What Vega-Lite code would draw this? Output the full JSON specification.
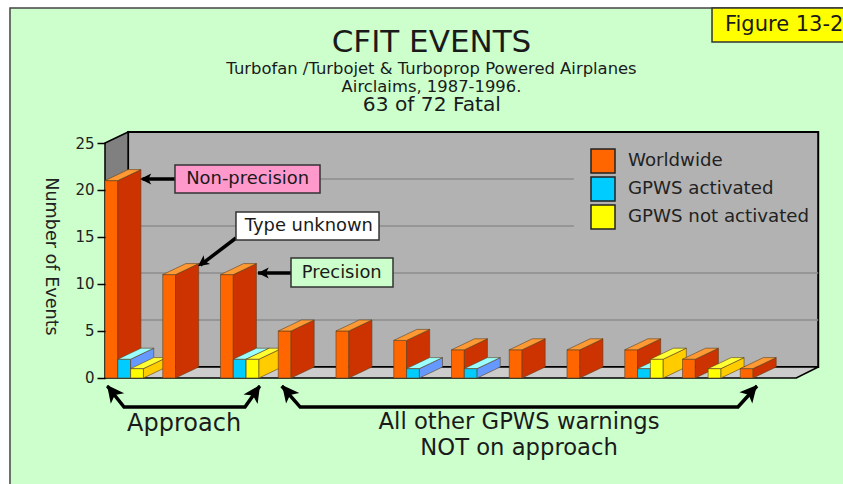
{
"$schema":"https://vega.github.io/schema/vega-lite/v6.json",
"width":843,"height":484,"padding":0,"autosize":{"type":"none"},
"background":"#ffffff",
"config":{"view":{"stroke":null},"font":"DejaVu Sans"},
"title":{"text":"CFIT EVENTS","subtitle":["Turbofan /Turbojet & Turboprop Powered Airplanes","Airclaims, 1987-1996."],"anchor":"middle","frame":"group","font":"DejaVu Sans","fontSize":31,"fontWeight":"normal","color":"#1a1a1a","subtitleFont":"DejaVu Sans","subtitleFontSize":16.4,"subtitleColor":"#1a1a1a","subtitleLineHeight":18,"subtitlePadding":2,"dx":10,"dy":96,"offset":0},
"resolve":{"scale":{"size":"independent"}},
"datasets":{
"events":[
{"slot":0,"series":"Worldwide","events":21},{"slot":0,"series":"GPWS activated","events":2},{"slot":0,"series":"GPWS not activated","events":1},
{"slot":1,"series":"Worldwide","events":11},
{"slot":2,"series":"Worldwide","events":11},{"slot":2,"series":"GPWS activated","events":2},{"slot":2,"series":"GPWS not activated","events":2},
{"slot":3,"series":"Worldwide","events":5},
{"slot":4,"series":"Worldwide","events":5},
{"slot":5,"series":"Worldwide","events":4},{"slot":5,"series":"GPWS activated","events":1},
{"slot":6,"series":"Worldwide","events":3},{"slot":6,"series":"GPWS activated","events":1},
{"slot":7,"series":"Worldwide","events":3},
{"slot":8,"series":"Worldwide","events":3},
{"slot":9,"series":"Worldwide","events":3},{"slot":9,"series":"GPWS activated","events":1},{"slot":9,"series":"GPWS not activated","events":2},
{"slot":10,"series":"Worldwide","events":2},{"slot":10,"series":"GPWS not activated","events":1},
{"slot":11,"series":"Worldwide","events":1}
],
"grid":[{"x":0.4,"x2":12.35,"y":6.17},{"x":0.4,"x2":12.35,"y":11.17},{"x":0.4,"x2":8.12,"y":16.17},{"x":0.4,"x2":8.12,"y":21.17}],
"boxes":[
{"label":"Non-precision","x":1.212,"x2":3.723,"y":22.66,"y2":19.68},
{"label":"Type unknown","x":2.268,"x2":4.745,"y":17.66,"y2":14.68},
{"label":"Precision","x":3.221,"x2":4.987,"y":12.77,"y2":9.68},
{"label":"Figure 13-2","x":10.511,"x2":12.866,"y":39.36,"y2":35.74}
],
"arrows":[
{"id":"a","x":1.212,"y":21.17},{"id":"a","x":0.65,"y":21.17},
{"id":"b","x":2.268,"y":14.894},{"id":"b","x":1.65,"y":12.0},
{"id":"c","x":3.221,"y":11.17},{"id":"c","x":2.65,"y":11.17},
{"id":"d","x":0.04,"y":-0.85},{"id":"d","x":0.33,"y":-3.09},{"id":"d","x":2.424,"y":-3.09},{"id":"d","x":2.68,"y":-0.85},
{"id":"e","x":3.06,"y":-0.85},{"id":"e","x":3.38,"y":-3.09},{"id":"e","x":10.96,"y":-3.09},{"id":"e","x":11.29,"y":-0.85}
],
"heads":[
{"head":"small","angle":270,"x":0.61,"y":21.17},
{"head":"small","angle":234,"x":1.61,"y":11.9},
{"head":"small","angle":270,"x":2.645,"y":11.17},
{"head":"large","angle":322,"x":0.035,"y":-0.75},
{"head":"large","angle":34,"x":2.685,"y":-0.75},
{"head":"large","angle":321,"x":3.065,"y":-0.75},
{"head":"large","angle":41,"x":11.29,"y":-0.75}
],
"labels":[
{"text":"Non-precision","kind":"box","x":2.47,"y":21.17},
{"text":"Type unknown","kind":"box","x":3.53,"y":16.17},
{"text":"Precision","kind":"box","x":4.1,"y":11.17},
{"text":"Figure 13-2","kind":"fig","x":11.76,"y":37.55},
{"text":"63 of 72 Fatal","kind":"fatal","x":5.66,"y":29.0},
{"text":"Approach","kind":"big","x":1.37,"y":-4.9},
{"text":"All other GPWS warnings","kind":"mid","x":7.17,"y":-4.7},
{"text":"NOT on approach","kind":"mid","x":7.17,"y":-7.4}
]
},
"encoding":{
"x":{"field":"x","type":"quantitative","scale":{"domain":[-1.818,12.779],"nice":false,"zero":false},"axis":null},
"y":{"field":"y","type":"quantitative","scale":{"domain":[-11.277,40.213],"nice":false,"zero":false},
"axis":{"values":[0,5,10,15,20,25],"offset":-105,"zindex":1,"domain":false,"grid":false,"tickColor":"#000000","tickWidth":1.5,"tickSize":8,"labelFont":"DejaVu Sans","labelFontSize":15,"labelColor":"#222222","labelPadding":3,"title":"Number of Events","titleFont":"DejaVu Sans","titleFontSize":17.6,"titleFontWeight":"normal","titleColor":"#222222","titleAngle":90,"titleX":-55,"titleY":256,"titleAlign":"center","titleBaseline":"middle"}}
},
"layer":[
{"data":{"values":[{"x":-1.645,"x2":12.95,"y":39.36,"y2":-11.5}]},
 "mark":{"type":"rect","fill":"#ccffcc","stroke":"#444444","strokeWidth":1.5},
 "encoding":{"x2":{"field":"x2"},"y2":{"field":"y2"}}},
{"data":{"values":[{"x":0.4,"x2":12.35,"y":26.17,"y2":1.17}]},
 "mark":{"type":"rect","fill":"#b2b2b2","stroke":"#000000","strokeWidth":2},
 "encoding":{"x2":{"field":"x2"},"y2":{"field":"y2"}}},
{"data":{"values":[{"x":0,"y":0,"y2":25},{"x":0.4,"y":1.17,"y2":26.17}]},
 "mark":{"type":"area","orient":"vertical","fill":"#808080","stroke":"#000000","strokeWidth":1.5},
 "encoding":{"y2":{"field":"y2"}}},
{"data":{"values":[{"x":0,"y":0,"y2":0},{"x":0.4,"y":0,"y2":1.17},{"x":11.97,"y":0,"y2":1.17},{"x":12.35,"y":1.17,"y2":1.17}]},
 "mark":{"type":"area","orient":"vertical","fill":"#cccccc","stroke":"#000000","strokeWidth":1.5},
 "encoding":{"y2":{"field":"y2"}}},
{"data":{"name":"grid"},
 "mark":{"type":"rule","stroke":"#8c8c8c","strokeWidth":1.5},
 "encoding":{"x2":{"field":"x2"}}},
{"data":{"name":"events"},
 "transform":[
  {"calculate":"datum.slot+(datum.series==='Worldwide'?0:datum.series==='GPWS activated'?0.222:0.444)","as":"bx"},
  {"calculate":"[[0,datum.bx,0,datum.events],[0,datum.bx+0.222,0,datum.events],[1,datum.bx+0.222,0,datum.events],[1,datum.bx+0.622,1.17,datum.events+1.17],[2,datum.bx,datum.events,datum.events],[2,datum.bx+0.222,datum.events,datum.events+0.649],[2,datum.bx+0.4,datum.events+0.521,datum.events+1.17],[2,datum.bx+0.622,datum.events+1.17,datum.events+1.17]]","as":"pts"},
  {"flatten":["pts"]},
  {"calculate":"datum.pts[0]","as":"part"},
  {"calculate":"datum.pts[1]","as":"x"},
  {"calculate":"datum.pts[2]","as":"y"},
  {"calculate":"datum.pts[3]","as":"y2"},
  {"calculate":"datum.part===0?datum.series:datum.series+(datum.part===1?' side':' top')","as":"face"},
  {"calculate":"datum.slot+'|'+datum.series+'|'+datum.part","as":"faceId"}
 ],
 "mark":{"type":"area","orient":"vertical","stroke":"#5a4020","strokeWidth":0.6,"opacity":1},
 "encoding":{
  "y2":{"field":"y2"},
  "detail":{"field":"faceId"},
  "color":{"field":"face","type":"nominal",
   "scale":{"domain":["Worldwide","GPWS activated","GPWS not activated","Worldwide side","GPWS activated side","GPWS not activated side","Worldwide top","GPWS activated top","GPWS not activated top"],
            "range":["#ff6600","#00ccff","#ffff00","#cc3300","#6699ff","#ffcc00","#ff9933","#99ffff","#ffff33"]},
   "legend":{"values":["Worldwide","GPWS activated","GPWS not activated"],"title":null,"orient":"none","legendX":590,"legendY":148,"symbolType":"square","symbolSize":576,"symbolStrokeColor":"#222222","symbolStrokeWidth":1.5,"symbolOpacity":1,"labelFont":"DejaVu Sans","labelFontSize":18.2,"labelLimit":300,"labelColor":"#222222","labelOffset":12,"rowPadding":-2}}
 }},
{"data":{"name":"arrows"},
 "mark":{"type":"line","stroke":"#000000","strokeWidth":3.5},
 "encoding":{"detail":{"field":"id"}}},
{"data":{"name":"heads"},
 "mark":{"type":"point","shape":"M0,0L0.5,1L0,0.75L-0.5,1Z","filled":true,"fill":"#000000","opacity":1},
 "encoding":{"angle":{"field":"angle","type":"quantitative","scale":null},
  "size":{"field":"head","type":"nominal","scale":{"type":"ordinal","domain":["small","large"],"range":[484,1156]},"legend":null}}},
{"data":{"name":"boxes"},
 "mark":{"type":"rect","stroke":"#333333","strokeWidth":1.5},
 "encoding":{"x2":{"field":"x2"},"y2":{"field":"y2"},
  "fill":{"field":"label","type":"nominal","scale":{"domain":["Non-precision","Type unknown","Precision","Figure 13-2"],"range":["#ff99cc","#ffffff","#ccffcc","#ffff00"]},"legend":null}}},
{"data":{"name":"labels"},
 "mark":{"type":"text","align":"center","baseline":"middle","font":"DejaVu Sans","color":"#1a1a1a"},
 "encoding":{"text":{"field":"text"},
  "size":{"field":"kind","type":"nominal","scale":{"type":"ordinal","domain":["box","fig","fatal","big","mid"],"range":[17.9,21,20.2,24,22.7]},"legend":null}}}
]
}
